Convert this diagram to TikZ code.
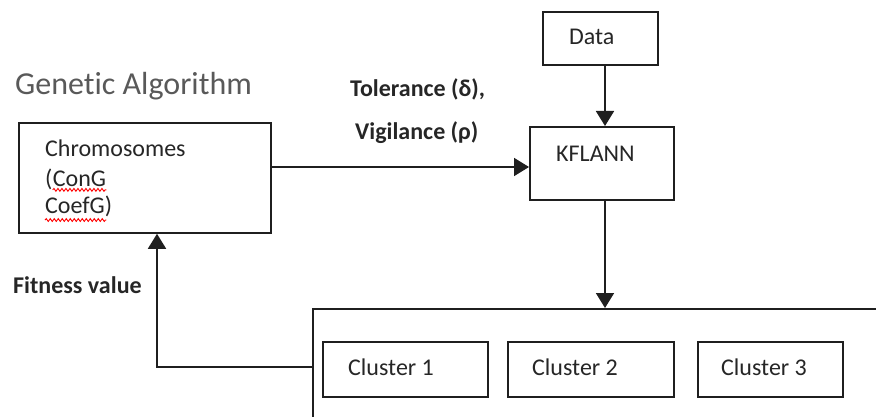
\documentclass[tikz,border=0pt]{standalone}
\usepackage{fontspec}
\setmainfont{Carlito}[Ligatures={NoCommon}]
\usetikzlibrary{arrows.meta,decorations.pathmorphing,calc}
\begin{document}
\begin{tikzpicture}[x=1pt,y=-1pt,
  box/.style={draw=black!88,line width=1.8pt,rectangle,inner sep=0pt,anchor=north west},
  txt/.style={inner sep=0pt,anchor=base west,font=\fontsize{24}{27}\selectfont,text=black!85},
  btxt/.style={txt,font=\fontsize{24}{27}\selectfont\bfseries},
  conn/.style={draw=black!88,line width=1.8pt},
  arr/.style={conn,-{Triangle[length=15pt,width=18pt]}},
  wavy/.style={draw=red,line width=0.9pt,decorate,decoration={snake,amplitude=1.4pt,segment length=4pt}}]
\useasboundingbox (0,0) rectangle (876,417);
\begin{scope}
\clip (0,0) rectangle (876,417);
% title
\node[txt,font=\fontsize{32}{36}\selectfont,text=black!65] (title) at (15,95) {Genetic Algorithm};
% boxes
\node[box,minimum width=252pt,minimum height=110pt] (chrom) at (18,122) {};
\node[box,minimum width=115pt,minimum height=53pt] (data) at (542,11) {};
\node[box,minimum width=144pt,minimum height=73pt] (kf) at (529,126) {};
\node[box,minimum width=620pt,minimum height=160pt] (res) at (312,308) {};
\node[box,minimum width=165pt,minimum height=55pt] (c1) at (322,341) {};
\node[box,minimum width=166pt,minimum height=55pt] (c2) at (507,341) {};
\node[box,minimum width=145pt,minimum height=55pt] (c3) at (697,341) {};
% texts
\node[txt] (t1) at (45,157) {Chromosomes};
\node[txt] (t2a) at (45,186) {(};
\node[txt,anchor=base west] (t2b) at (t2a.base east) {ConG};
\node[txt] (t3) at (45,213) {CoefG)};
\draw[wavy] ($(t2b.south west)+(0,3.5)$) -- ($(t2b.south east)+(0,3.5)$);
\draw[wavy] ($(t3.south west)+(0,3.5)$) -- ($(t3.south east)+(-6,3.5)$);
\node[txt] (tdata) at (569,45) {Data};
\node[txt] (tkf) at (556,162) {KFLANN};
\node[btxt] (tol) at (350,97) {Tolerance (δ),};
\node[btxt] (vig) at (355,140) {Vigilance (ρ)};
\node[btxt] (fit) at (13,293) {Fitness value};
\node[txt] (tc1) at (348,375) {Cluster 1};
\node[txt] (tc2) at (532,375) {Cluster 2};
\node[txt] (tc3) at (721,375) {Cluster 3};
% connectors
\coordinate (din) at ($(data.south west)+(63,0)$);
\draw[arr] (din) -- (din |- kf.north);
\coordinate (cin) at ($(chrom.north east)+(0,45)$);
\draw[arr] (cin) -- (cin -| kf.west);
\coordinate (kout) at ($(kf.south west)+(76,0)$);
\draw[arr] (kout) -- (kout |- res.north);
\coordinate (rl) at ($(res.north west)+(0,59)$);
\coordinate (fb) at ($(chrom.south west)+(139,0)$);
\draw[arr] (rl) -- (rl -| fb) -- (fb);
\end{scope}
\end{tikzpicture}
\end{document}
